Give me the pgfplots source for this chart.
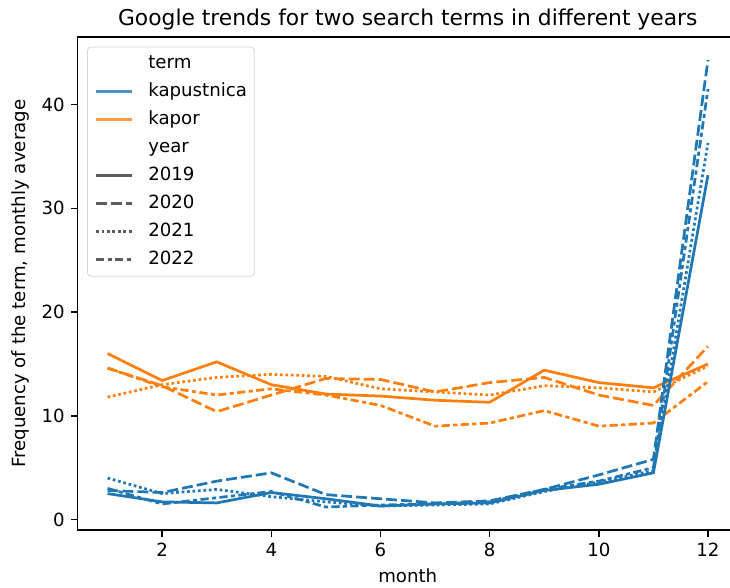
\documentclass[border=0pt]{standalone}
\usepackage{fontspec}
\setmainfont{DejaVu Sans}
\usepackage{pgfplots}
\pgfplotsset{compat=1.18}
\usetikzlibrary{calc}
\definecolor{tabblue}{HTML}{1F77B4}
\definecolor{taborange}{HTML}{FF7F0E}
\definecolor{dk}{HTML}{333333}
\definecolor{lgedge}{HTML}{CCCCCC}
\tikzset{
  y2019/.style={solid},
  y2020/.style={dash pattern=on 6pt off 2.25pt},
  y2021/.style={dash pattern=on 1.5pt off 1.5pt},
  y2022/.style={dash pattern=on 4.5pt off 1.875pt on 2.25pt off 1.875pt},
}
\begin{document}
\begin{tikzpicture}
\begin{axis}[
  name=ax,
  width=363.6pt, height=271.4pt, scale only axis,
  xmin=0.45, xmax=12.55, ymin=-1.03, ymax=46.5,
  xtick={2,4,6,8,10,12}, ytick={0,10,20,30,40},
  tick align=outside, tick pos=left,
  major tick length=3.5pt,
  every tick/.style={black, line width=0.8pt},
  axis line style={line width=0.8pt},
  /pgf/number format/assume math mode=true,
  tick label style={font=\fontsize{10}{12}\selectfont},
  label style={font=\fontsize{10}{12}\selectfont},
  title style={font=\fontsize{12}{14}\selectfont, yshift=-5.4pt},
  title={Google trends for two search terms in different years},
  xlabel={month},
  ylabel={Frequency of the term, monthly average},
  legend style={at={(0.0145,0.981)}, anchor=north west,
    draw=lgedge, rounded corners=2pt, fill=white, fill opacity=0.8, draw opacity=0.8, text opacity=1,
    inner xsep=4pt, inner ysep=4pt, row sep=5pt, column sep=8pt,
    font=\fontsize{10}{12}\selectfont,
    nodes={inner xsep=0pt, inner ysep=0pt, text height=8pt, text depth=2.4pt}},
  legend cell align=left,
  legend image code/.code={\draw[#1, line width=1.5pt] (0pt,0pt) -- (20pt,0pt);},
]
\addlegendimage{empty legend}\addlegendentry{term}
\addlegendimage{tabblue}\addlegendentry{kapustnica}
\addlegendimage{taborange}\addlegendentry{kapor}
\addlegendimage{empty legend}\addlegendentry{year}
\addlegendimage{dk, y2019}\addlegendentry{2019}
\addlegendimage{dk, y2020}\addlegendentry{2020}
\addlegendimage{dk, y2021}\addlegendentry{2021}
\addlegendimage{dk, y2022}\addlegendentry{2022}

% kapor
\addplot[forget plot, taborange, line width=1.5pt, y2019] coordinates {(1,16.0) (2,13.4) (3,15.2) (4,13.0) (5,12.1) (6,11.9) (7,11.5) (8,11.3) (9,14.4) (10,13.2) (11,12.7) (12,15.0)};
\addplot[forget plot, taborange, line width=1.5pt, y2020] coordinates {(1,14.6) (2,12.9) (3,10.4) (4,12.0) (5,13.6) (6,13.5) (7,12.3) (8,13.2) (9,13.7) (10,12.0) (11,11.0) (12,16.7)};
\addplot[forget plot, taborange, line width=1.5pt, y2021] coordinates {(1,11.8) (2,13.0) (3,13.7) (4,14.0) (5,13.8) (6,12.6) (7,12.3) (8,12.0) (9,12.9) (10,12.7) (11,12.3) (12,14.8)};
\addplot[forget plot, taborange, line width=1.5pt, y2022] coordinates {(1,14.6) (2,12.8) (3,12.0) (4,12.6) (5,12.0) (6,11.0) (7,9.0) (8,9.3) (9,10.5) (10,9.0) (11,9.3) (12,13.3)};
% kapustnica
\addplot[forget plot, tabblue, line width=1.5pt, y2019] coordinates {(1,2.5) (2,1.7) (3,1.6) (4,2.6) (5,2.0) (6,1.3) (7,1.5) (8,1.6) (9,2.8) (10,3.4) (11,4.5) (12,33.2)};
\addplot[forget plot, tabblue, line width=1.5pt, y2020] coordinates {(1,2.8) (2,2.6) (3,3.7) (4,4.5) (5,2.4) (6,2.0) (7,1.6) (8,1.8) (9,2.9) (10,4.3) (11,5.8) (12,44.3)};
\addplot[forget plot, tabblue, line width=1.5pt, y2021] coordinates {(1,4.0) (2,2.5) (3,2.9) (4,2.2) (5,1.7) (6,1.3) (7,1.4) (8,1.5) (9,2.7) (10,3.6) (11,4.7) (12,36.3)};
\addplot[forget plot, tabblue, line width=1.5pt, y2022] coordinates {(1,3.0) (2,1.5) (3,2.1) (4,2.7) (5,1.2) (6,1.4) (7,1.5) (8,1.7) (9,2.9) (10,3.7) (11,5.0) (12,41.5)};
\end{axis}
\pgfresetboundingbox
\useasboundingbox ($(ax.south west)+(-42.7pt,-31.5pt)$) rectangle ($(ax.north east)+(-4.4pt,20.5pt)$);
\end{tikzpicture}
\end{document}
